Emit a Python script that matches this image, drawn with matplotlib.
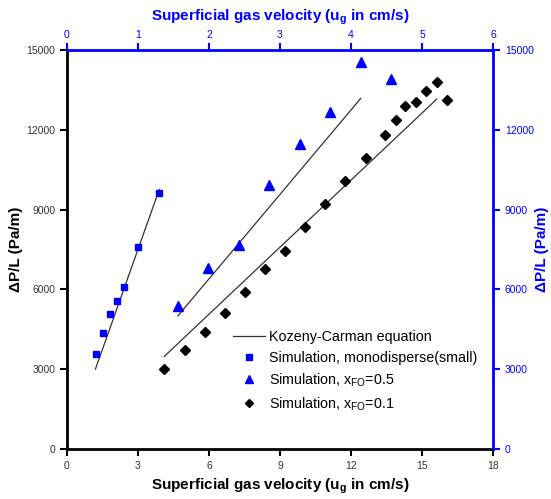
import matplotlib.pyplot as plt
import numpy as np

plt.rcParams['font.family'] = ['Liberation Sans', 'DejaVu Sans']

# monodisperse (small) particles
ug_mono = [1.23, 1.52, 1.83, 2.10, 2.39, 3.01, 3.90]
dp_mono = [3580, 4360, 5090, 5550, 6080, 7590, 9610]
kc_mono_ug = [1.20, 3.90]
kc_mono_dp = [3000, 9760]

# x_FO = 0.5
ug_05 = [4.69, 5.97, 7.27, 8.55, 9.84, 11.12, 12.41, 13.69]
dp_05 = [5360, 6810, 7680, 9910, 11460, 12680, 14540, 13910]
kc_05_ug = [4.69, 12.41]
kc_05_dp = [5010, 13180]

# x_FO = 0.1
ug_01 = [4.11, 4.99, 5.83, 6.68, 7.52, 8.37, 9.21, 10.05, 10.90, 11.76,
         12.62, 13.45, 13.89, 14.29, 14.74, 15.18, 15.62, 16.04]
dp_01 = [3020, 3720, 4390, 5110, 5890, 6750, 7460, 8360, 9220, 10080,
         10940, 11800, 12360, 12900, 13050, 13440, 13810, 13110]
kc_01_ug = [4.11, 15.62]
kc_01_dp = [3480, 13150]

xticks = [0, 3, 6, 9, 12, 15, 18]
yticks = [0, 3000, 6000, 9000, 12000, 15000]
top_ticks = [0, 1, 2, 3, 4, 5, 6]

blue = '#0000ff'

fig = plt.figure(figsize=(5.51, 4.99), dpi=100)
ax = fig.add_axes([67/551, 50/499, 426/551, 399/499])

ax.plot(kc_mono_ug, kc_mono_dp, color='#333333', lw=0.9,
        label='Kozeny-Carman equation')
ax.plot(kc_05_ug, kc_05_dp, color='#333333', lw=0.9)
ax.plot(kc_01_ug, kc_01_dp, color='#333333', lw=0.9)
ax.plot(ug_mono, dp_mono, 's', color=blue, ms=5, ls='none',
        label='Simulation, monodisperse(small)')
ax.plot(ug_05, dp_05, '^', color=blue, ms=6.5, ls='none',
        label='Simulation, x$_{\\mathregular{FO}}$=0.5')
ax.plot(ug_01, dp_01, 'D', color='black', ms=5.5, ls='none',
        label='Simulation, x$_{\\mathregular{FO}}$=0.1')

ax.set_xlim(0, 18)
ax.set_ylim(0, 15000)
ax.set_xticks(xticks)
ax.set_yticks(yticks)
ax.tick_params(direction='out', length=5, width=1.5, labelsize=7.5,
               colors='black', labelcolor='#333333')
ax.set_xlabel('Superficial gas velocity (u$_{\\mathregular{g}}$ in cm/s)',
              fontsize=11, fontweight='bold', labelpad=4)
ax.set_ylabel('ΔP/L (Pa/m)', fontsize=11, fontweight='bold', labelpad=2)
ax.spines['left'].set_linewidth(2)
ax.spines['bottom'].set_linewidth(2)
ax.spines['top'].set_visible(False)
ax.spines['right'].set_visible(False)

# blue top axis
axt = ax.twiny()
axt.set_xlim(0, 6)
axt.set_xticks(top_ticks)
axt.tick_params(direction='out', length=5, width=1.5, labelsize=7.5,
                colors=blue, labelcolor=blue, pad=2)
axt.set_xlabel('Superficial gas velocity (u$_{\\mathregular{g}}$ in cm/s)',
               fontsize=11, fontweight='bold', color=blue, labelpad=7)
for s in ['left', 'bottom', 'right']:
    axt.spines[s].set_visible(False)
axt.spines['top'].set_color(blue)
axt.spines['top'].set_linewidth(2)

# blue right axis
axr = ax.twinx()
axr.set_ylim(0, 15000)
axr.set_yticks(yticks)
axr.tick_params(direction='out', length=5, width=1.5, labelsize=7.5,
                colors=blue, labelcolor=blue)
axr.set_ylabel('ΔP/L (Pa/m)', fontsize=11, fontweight='bold', color=blue,
               labelpad=1)
for s in ['left', 'bottom', 'top']:
    axr.spines[s].set_visible(False)
axr.spines['right'].set_color(blue)
axr.spines['right'].set_linewidth(2)

ax.legend(loc='upper left', bbox_to_anchor=(0.39, 0.297), frameon=False,
          fontsize=10.3, handlelength=2.2, handletextpad=0.3,
          labelspacing=0.45, markerscale=0.8, borderaxespad=0,
          borderpad=0)

fig.savefig('out.png', dpi=100)
